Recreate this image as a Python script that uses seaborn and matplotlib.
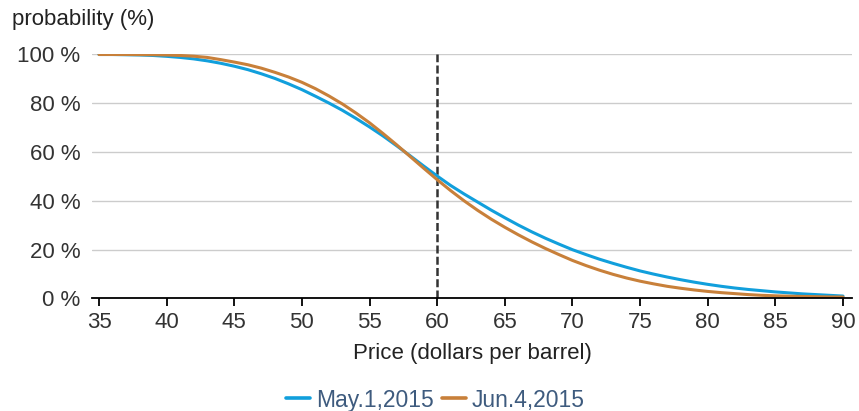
import matplotlib
matplotlib.use("Agg")
import matplotlib.pyplot as plt
import seaborn as sns
import pandas as pd

sns.set_theme(style="white")
plt.rcParams['font.family'] = ['Liberation Sans', 'DejaVu Sans']

# values (probability that price stays above x, %)
price = list(range(35, 91))
may_1 = [100, 100, 99.9, 99.8, 99.6, 99.25, 98.8, 98.2, 97.4, 96.4,
         95.2, 93.8, 92.1, 90.2, 88.0, 85.6, 82.9, 80.1, 77.1, 73.8,
         70.3, 66.6, 62.6, 58.5, 54.3, 50.2, 46.3, 42.8, 39.5, 36.2,
         33.1, 30.1, 27.3, 24.7, 22.3, 20.0, 18.0, 16.1, 14.4, 12.8,
         11.3, 10.0, 8.8, 7.7, 6.7, 5.8, 5.0, 4.3, 3.7, 3.2,
         2.7, 2.3, 1.9, 1.6, 1.3, 1.0]
jun_4 = [100, 100, 100, 99.95, 99.9, 99.8, 99.6, 99.3, 98.8, 97.9,
         96.9, 95.8, 94.4, 92.7, 90.8, 88.6, 86.0, 83.0, 79.7, 76.0,
         72.0, 67.6, 63.0, 58.2, 53.4, 48.7, 44.2, 40.0, 36.1, 32.5,
         29.2, 26.1, 23.2, 20.5, 18.0, 15.6, 13.5, 11.6, 9.9, 8.4,
         7.1, 6.0, 5.0, 4.2, 3.5, 2.9, 2.4, 2.0, 1.6, 1.3,
         1.1, 0.95, 0.85, 0.75, 0.65, 0.6]
series_names = ["May.1,2015", "Jun.4,2015"]
xticks = list(range(35, 91, 5))
yticks = [0, 20, 40, 60, 80, 100]

df = pd.DataFrame({"price": price, series_names[0]: may_1, series_names[1]: jun_4})
tidy = df.melt(id_vars="price", var_name="series", value_name="prob")

fig = plt.figure(figsize=(8.59, 4.11), dpi=100)
ax = fig.add_axes([92/859, 1-298.5/411, 760/859, 244/411])

pal = ["#119fdc", "#c8803a"]
sns.lineplot(data=tidy, x="price", y="prob", hue="series", palette=pal,
             linewidth=2.2, ax=ax, legend=True)

ax.axvline(60, color="#333333", linestyle=(0, (3.2, 1.3)), linewidth=1.8, zorder=1)

ax.set_xlim(35 - 7/13.53, 90 + 9/13.53)
ax.set_ylim(0, 100)
ax.set_xticks(xticks)
ax.set_xticklabels([str(t) for t in xticks])
ax.set_yticks(yticks)
ax.set_yticklabels([f"{t} %" for t in yticks])
ax.yaxis.grid(True, color="#cccccc", linewidth=1)
ax.set_axisbelow(True)
for s in ["top", "right", "left"]:
    ax.spines[s].set_visible(False)
ax.spines["bottom"].set_color("black")
ax.spines["bottom"].set_linewidth(1.3)
ax.tick_params(axis="x", bottom=True, length=6, width=1.3, color="black",
               labelsize=16, labelcolor="#333333", pad=3.5)
ax.tick_params(axis="y", left=False, labelsize=16, labelcolor="#333333", pad=2.5)

ax.set_ylabel("")
ax.set_xlabel("Price (dollars per barrel)", fontsize=16, color="#222222", labelpad=7.5)
fig.text(12/859, 1-19/411, "probability (%)", fontsize=16, color="#222222",
         ha="left", va="center")

handles, labels = ax.get_legend_handles_labels()
for h in handles:
    h.set_linewidth(2.6)
leg = ax.legend(handles=handles, labels=labels, loc="center",
                bbox_to_anchor=(435.5/859, 1-400/411), bbox_transform=fig.transFigure,
                ncol=2, frameon=False, fontsize=16.5, handlelength=1.05,
                handletextpad=0.26, columnspacing=0.35)
for t in leg.get_texts():
    t.set_color("#3e5b7e")

fig.savefig("out.png", dpi=100)
